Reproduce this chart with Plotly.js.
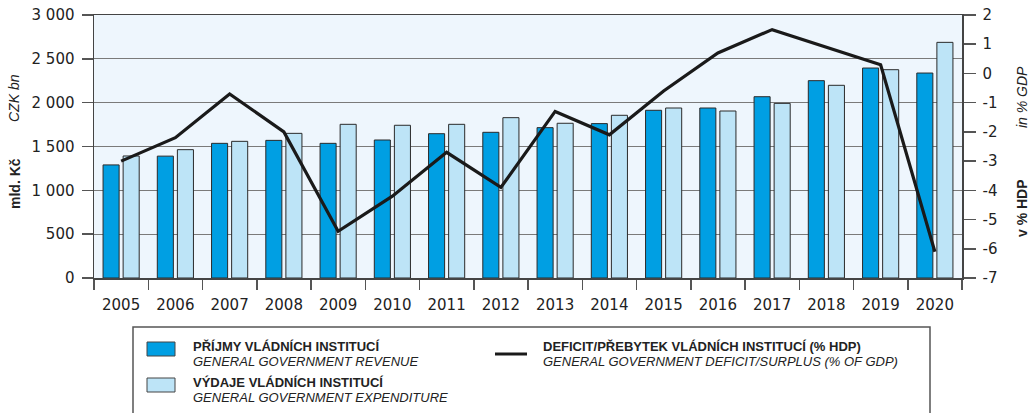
<!DOCTYPE html>
<html>
<head>
<meta charset="utf-8">
<script src="https://cdn.plot.ly/plotly-3.0.1.min.js"></script>
<style>html,body{margin:0;padding:0;background:#fff;}#chart{width:1035px;height:413px;}</style>
</head>
<body>
<div id="chart"></div>
<script>
const years = ['2005','2006','2007','2008','2009','2010','2011','2012','2013','2014','2015','2016','2017','2018','2019','2020'];
const revenue = [1290, 1390, 1536, 1570, 1536, 1574, 1646, 1662, 1715, 1761, 1913, 1939, 2068, 2251, 2395, 2338];
const expenditure = [1392, 1464, 1559, 1650, 1753, 1742, 1753, 1829, 1765, 1856, 1939, 1905, 1992, 2198, 2376, 2688];
const balance = [-3.0, -2.2, -0.7, -2.0, -5.4, -4.2, -2.7, -3.9, -1.3, -2.1, -0.6, 0.7, 1.5, 0.9, 0.3, -6.1];
const rightTickVals = [-7, -6, -5, -4, -3, -2, -1, 0, 1, 2];
const rightTickText = ['-7', '-6', '-5', '-4', '-3', '-2', '-1', '0', '1', '2'];
const legRevenueCz = 'PŘÍJMY VLÁDNÍCH INSTITUCÍ';
const legRevenueEn = 'GENERAL GOVERNMENT REVENUE';
const legExpCz = 'VÝDAJE VLÁDNÍCH INSTITUCÍ';
const legExpEn = 'GENERAL GOVERNMENT EXPENDITURE';
const legLineCz = 'DEFICIT/PŘEBYTEK VLÁDNÍCH INSTITUCÍ (% HDP)';
const legLineEn = 'GENERAL GOVERNMENT DEFICIT/SURPLUS (% OF GDP)';

const W = 1035, H = 413;
const M = {l: 94, r: 73, t: 15, b: 135};
const PW = W - M.l - M.r, PH = H - M.t - M.b;
const px = x => (x - M.l) / PW;
const py = y => (H - M.b - y) / PH;

const C_REV = '#009fe3', C_EXP = '#bde4f7', C_TXT = '#222';
const FONT = 'Liberation Sans, Arial, sans-serif';
const TFONT = 'DejaVu Sans, sans-serif';

const traces = [
  {type: 'bar', x: years, y: revenue, name: legRevenueCz, marker: {color: C_REV, line: {color: '#2a2a2a', width: 1}}, showlegend: false},
  {type: 'bar', x: years, y: expenditure, name: legExpCz, marker: {color: C_EXP, line: {color: '#2a2a2a', width: 1}}, showlegend: false},
  {type: 'scatter', mode: 'lines', x: years, y: balance, yaxis: 'y2', name: legLineCz, line: {color: '#1a1a1a', width: 3.2}, showlegend: false}
];

const shapes = [
  {type: 'rect', xref: 'paper', yref: 'paper', x0: px(133), x1: px(930), y0: py(327), y1: py(420), line: {color: '#555', width: 1.5}, fillcolor: 'rgba(0,0,0,0)'},
  {type: 'rect', xref: 'paper', yref: 'paper', x0: px(147), x1: px(175), y0: py(342), y1: py(356), line: {color: '#444', width: 1}, fillcolor: C_REV},
  {type: 'rect', xref: 'paper', yref: 'paper', x0: px(147), x1: px(175), y0: py(378), y1: py(392), line: {color: '#444', width: 1}, fillcolor: C_EXP},
  {type: 'line', xref: 'paper', yref: 'paper', x0: px(495), x1: px(527), y0: py(354), y1: py(354), line: {color: '#1a1a1a', width: 3}}
];

function legText(x, y, txt, bold) {
  return {xref: 'paper', yref: 'paper', x: px(x), y: py(y), xanchor: 'left', yanchor: 'middle', showarrow: false,
    text: bold ? '<b>' + txt + '</b>' : '<i>' + txt + '</i>', font: {family: FONT, size: 13, color: C_TXT}};
}

const annotations = [
  legText(191, 346, legRevenueCz, true),
  legText(191, 361, legRevenueEn, false),
  legText(191, 382, legExpCz, true),
  legText(191, 397, legExpEn, false),
  legText(541, 346, legLineCz, true),
  legText(541, 361, legLineEn, false),
  {xref: 'paper', yref: 'paper', x: px(15), y: py(184), textangle: -90, showarrow: false, xanchor: 'center', yanchor: 'middle', text: '<b>mld. Kč</b>', font: {family: FONT, size: 14, color: C_TXT}},
  {xref: 'paper', yref: 'paper', x: px(14), y: py(98), textangle: -90, showarrow: false, xanchor: 'center', yanchor: 'middle', text: '<i>CZK bn</i>', font: {family: FONT, size: 14, color: C_TXT}},
  {xref: 'paper', yref: 'paper', x: px(1022), y: py(208), textangle: -90, showarrow: false, xanchor: 'center', yanchor: 'middle', text: '<b>v % HDP</b>', font: {family: FONT, size: 14, color: C_TXT}},
  {xref: 'paper', yref: 'paper', x: px(1022), y: py(97), textangle: -90, showarrow: false, xanchor: 'center', yanchor: 'middle', text: '<i>in % GDP</i>', font: {family: FONT, size: 14, color: C_TXT}}
];

const layout = {
  width: W, height: H,
  margin: M,
  paper_bgcolor: '#ffffff',
  plot_bgcolor: '#eef6fd',
  separators: ', ',
  barmode: 'group',
  bargap: 0.26,
  bargroupgap: 0.2,
  showlegend: false,
  font: {family: TFONT, size: 15, color: C_TXT},
  xaxis: {
    type: 'category', showgrid: false, showline: true, linecolor: '#444', linewidth: 1.5, mirror: true,
    ticks: 'outside', tickson: 'boundaries', ticklen: 10, tickcolor: '#555', tickwidth: 1.5,
    ticklabelstandoff: 12,
    tickfont: {family: TFONT, size: 15, color: C_TXT}, fixedrange: true
  },
  yaxis: {
    range: [0, 3000], dtick: 500, tick0: 0, separatethousands: true, showgrid: true, gridcolor: '#7a7a7a', gridwidth: 1,
    zeroline: false, showline: true, linecolor: '#444', linewidth: 1.5,
    ticks: 'outside', ticklen: 11, tickcolor: '#555', tickwidth: 1.5,
    ticklabelstandoff: 4,
    tickfont: {family: TFONT, size: 15, color: C_TXT}
  },
  yaxis2: {
    overlaying: 'y', side: 'right', range: [-7, 2], tickmode: 'array', tickvals: rightTickVals, ticktext: rightTickText,
    showgrid: false, zeroline: false, showline: true, linecolor: '#444', linewidth: 1.5,
    ticks: 'outside', ticklen: 12, tickcolor: '#555', tickwidth: 1.5,
    ticklabelstandoff: 4,
    tickfont: {family: TFONT, size: 15, color: C_TXT}
  },
  shapes: shapes,
  annotations: annotations
};

Plotly.newPlot('chart', traces, layout, {staticPlot: true, displayModeBar: false});
</script>
</body>
</html>
